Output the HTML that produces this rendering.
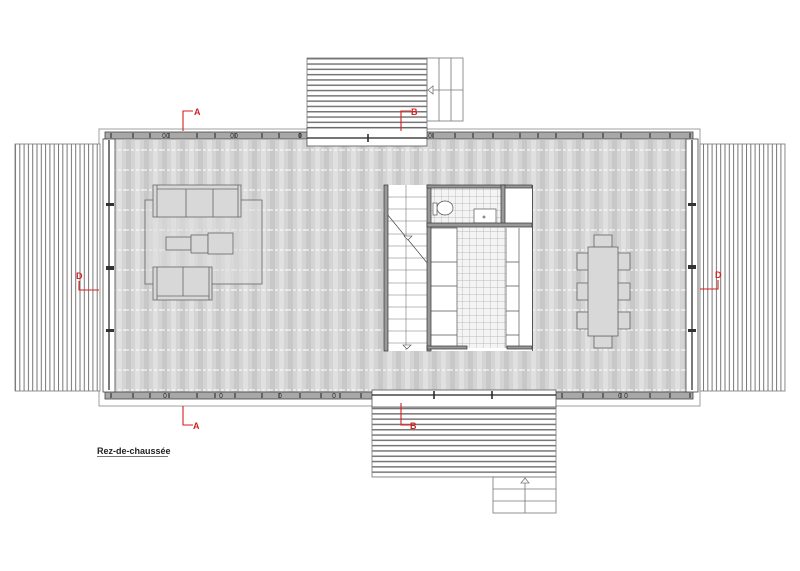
<!DOCTYPE html>
<html><head><meta charset="utf-8"><style>
html,body{margin:0;padding:0;background:#fff;width:800px;height:571px;overflow:hidden}
svg{display:block}
text{font-family:"Liberation Sans",sans-serif}
</style></head><body>
<svg width="800" height="571" viewBox="0 0 800 571" xmlns="http://www.w3.org/2000/svg">
<defs>
<pattern id="floor" x="0" y="0" width="18" height="20" patternUnits="userSpaceOnUse">
<rect width="18" height="20" fill="#dadada"/>
<rect x="0" width="5" height="20" fill="#cbcbcb"/>
<rect x="9" width="5" height="20" fill="#e9e9e9"/>
<path d="M1 0V20M3 0V20M5 0V20M7 0V20M9 0V20M11 0V20M13 0V20M15 0V20M17 0V20" stroke="#bcbcbc" stroke-width="0.4"/>
<path d="M0 10H3M5 10H8M10 10H13M15 10H18" stroke="#fff" stroke-width="0.9"/>
</pattern>
<pattern id="vdeck" x="15" y="0" width="4.3" height="10" patternUnits="userSpaceOnUse">
<rect width="4.3" height="10" fill="#fff"/><rect x="0" width="1" height="10" fill="#777"/>
</pattern>
<pattern id="hdeck" x="0" y="58" width="10" height="5.3" patternUnits="userSpaceOnUse">
<rect width="10" height="5.3" fill="#fff"/><rect y="0" width="10" height="1.5" fill="#777"/>
</pattern>
<pattern id="tile" x="0" y="0" width="7" height="7" patternUnits="userSpaceOnUse">
<rect width="7" height="7" fill="#f4f4f4"/><path d="M0 0H7M0 0V7" stroke="#aaa" stroke-width="0.7"/>
</pattern>
</defs>

<rect x="99" y="129" width="601" height="277" fill="none" stroke="#888" stroke-width="0.8"/>
<rect x="114" y="140" width="573" height="252" fill="url(#floor)"/>

<rect x="15" y="144" width="85" height="247" fill="url(#vdeck)" stroke="#777" stroke-width="0.8"/>
<rect x="700" y="144" width="85" height="247" fill="url(#vdeck)" stroke="#777" stroke-width="0.8"/>
<rect x="307" y="58" width="120" height="70" fill="url(#hdeck)" stroke="#777" stroke-width="0.8"/>
<rect x="372" y="407" width="184" height="70" fill="url(#hdeck)" stroke="#777" stroke-width="0.8"/>
<g fill="none" stroke="#777" stroke-width="0.8">
<rect x="427" y="58" width="36" height="63"/>
<path d="M439 58V121M451 58V121M427 90H463"/>
<path d="M428 90L433 86V94Z" fill="#fff"/>
<rect x="493" y="477" width="63" height="36"/>
<path d="M493 489H556M493 501H556M525 477V513"/>
<path d="M525 478L521 483H529Z" fill="#fff"/>
</g>

<g fill="#a8a8a8" stroke="#444" stroke-width="0.8">
<rect x="105" y="132" width="202" height="7"/>
<rect x="427" y="132" width="266" height="7"/>
<rect x="105" y="392" width="267" height="7"/>
<rect x="556" y="392" width="137" height="7"/>
</g>
<g fill="#fff" stroke="#555" stroke-width="0.8">
<rect x="307" y="128" width="120" height="18"/>
<rect x="372" y="390" width="184" height="17"/>
</g>
<path d="M307 138H427M372 395H556" stroke="#222" stroke-width="1.2"/>
<path d="M368 134V142M434 391V399M492 391V399" stroke="#222" stroke-width="1.5"/>
<g fill="#fff" stroke="#444" stroke-width="0.8">
<rect x="103" y="139" width="12" height="253"/>
<rect x="686" y="139" width="12" height="253"/>
</g>
<path d="M109 140V390M692 140V390" stroke="#222" stroke-width="1.2"/>
<g fill="#333">
<rect x="106" y="203" width="8" height="3"/><rect x="106" y="266" width="8" height="4"/><rect x="106" y="329" width="8" height="3"/>
<rect x="688" y="203" width="8" height="3"/><rect x="688" y="265" width="8" height="4"/><rect x="688" y="329" width="8" height="3"/>
</g>
<g stroke="#222" stroke-width="1">
<path d="M111 133V138M133 133V138M150 133V138M169 133V138M197 133V138M215 133V138M235 133V138M262 133V138M279 133V138M300 133V138M433 133V138M455 133V138M473 133V138M493 133V138M520 133V138M538 133V138M556 133V138M583 133V138M603 133V138M621 133V138M650 133V138M670 133V138M690 133V138"/>
<path d="M111 393V398M133 393V398M150 393V398M169 393V398M197 393V398M215 393V398M235 393V398M262 393V398M279 393V398M300 393V398M321 393V398M340 393V398M361 393V398M562 393V398M583 393V398M603 393V398M621 393V398M650 393V398M670 393V398M690 393V398"/>
</g>
<g fill="none" stroke="#333" stroke-width="0.6">
<ellipse cx="164" cy="135.5" rx="1.3" ry="2.3"/><ellipse cx="168" cy="135.5" rx="1.3" ry="2.3"/>
<ellipse cx="232" cy="135.5" rx="1.3" ry="2.3"/><ellipse cx="236" cy="135.5" rx="1.3" ry="2.3"/>
<ellipse cx="300" cy="135.5" rx="1.3" ry="2.3"/><ellipse cx="430" cy="135.5" rx="1.3" ry="2.3"/>
<ellipse cx="165" cy="395.5" rx="1.3" ry="2.3"/><ellipse cx="221" cy="395.5" rx="1.3" ry="2.3"/>
<ellipse cx="280" cy="395.5" rx="1.3" ry="2.3"/><ellipse cx="334" cy="395.5" rx="1.3" ry="2.3"/>
<ellipse cx="620" cy="395.5" rx="1.3" ry="2.3"/><ellipse cx="626" cy="395.5" rx="1.3" ry="2.3"/>
</g>

<g stroke="#666" stroke-width="0.8">
<rect x="145" y="200" width="117" height="84" fill="#dcdcdc" fill-opacity="0.6"/>
<rect x="153" y="185" width="88" height="32" fill="#d8d8d8"/>
<path d="M157 189H238M157 185V217M238 185V217M186 189V217M213 189V217" fill="none"/>
<rect x="166" y="237" width="25" height="13" fill="#d8d8d8"/>
<rect x="191" y="235" width="17" height="18" fill="#d8d8d8"/>
<rect x="208" y="233" width="25" height="21" fill="#d8d8d8"/>
<rect x="153" y="267" width="59" height="33" fill="#d8d8d8"/>
<path d="M157 267V300M209 267V300M157 296H209M183 267V296" fill="none"/>
</g>

<g stroke="#666" stroke-width="0.8" fill="#d8d8d8">
<rect x="594" y="235" width="18" height="12"/>
<rect x="594" y="336" width="18" height="12"/>
<rect x="577" y="253" width="12" height="17"/><rect x="577" y="283" width="12" height="17"/><rect x="577" y="312" width="12" height="17"/>
<rect x="618" y="253" width="12" height="17"/><rect x="618" y="283" width="12" height="17"/><rect x="618" y="312" width="12" height="17"/>
<rect x="588" y="247" width="30" height="89"/>
</g>

<rect x="386" y="185" width="146" height="166" fill="#fff"/>
<g fill="none" stroke="#777" stroke-width="0.6">
<path d="M388 197H428M388 209H428M388 221H428M388 234H428M388 246H428M388 258H428M388 270H428M388 283H428M388 295H428M388 307H428M388 319H428M388 331H428M388 343H428M406 185V350"/>
</g>
<path d="M387 214L428 264" stroke="#444" stroke-width="0.7"/>
<path d="M404 236L412 236L408 240Z M403 345L411 345L407 349Z" fill="#fff" stroke="#444" stroke-width="0.6"/>
<rect x="430" y="188" width="73" height="35" fill="url(#tile)"/>
<rect x="457" y="227" width="49" height="121" fill="url(#tile)"/>
<g fill="none" stroke="#555" stroke-width="0.7">
<path d="M431 228H457V348M431 262H457M431 286H457M431 311H457M431 335H457M506 228V348M506 262H519M506 286H519M506 311H519M506 335H519M519 228V348"/>
<ellipse cx="445" cy="208" rx="8" ry="7" fill="#fff"/>
<rect x="433" y="203" width="4" height="12" fill="#fff"/>
<rect x="474" y="209" width="22" height="14" fill="#fff"/>
<circle cx="484" cy="217" r="1"/>
</g>
<g fill="#999" stroke="#333" stroke-width="0.7">
<rect x="384" y="185" width="4" height="166"/>
<rect x="427" y="185" width="4" height="166"/>
<rect x="427" y="185" width="105" height="3"/>
<rect x="501" y="185" width="4" height="41"/>
<rect x="427" y="223" width="105" height="4"/>
<rect x="427" y="346" width="40" height="3"/>
<rect x="507" y="346" width="25" height="3"/>
</g>
<rect x="532" y="185" width="1" height="166" fill="#555"/>

<g stroke="#d42020" stroke-width="1.1" fill="none">
<path d="M183 131V111H193"/>
<path d="M401 131V111H411"/>
<path d="M183 406V425H193"/>
<path d="M401 403V425H411"/>
<path d="M79 281V290H99"/>
<path d="M718 280V289H700"/>
</g>
<g fill="#d42020" font-size="9" font-weight="bold">
<text x="194" y="115">A</text>
<text x="411" y="115">B</text>
<text x="193" y="429">A</text>
<text x="410" y="429">B</text>
<text x="76" y="279">D</text>
<text x="715" y="278">D</text>
</g>

<text x="97" y="454" font-size="9" font-weight="bold" fill="#222">Rez-de-chaussée</text>
<line x1="97" y1="456.5" x2="168" y2="456.5" stroke="#777" stroke-width="1"/>
</svg>
</body></html>
